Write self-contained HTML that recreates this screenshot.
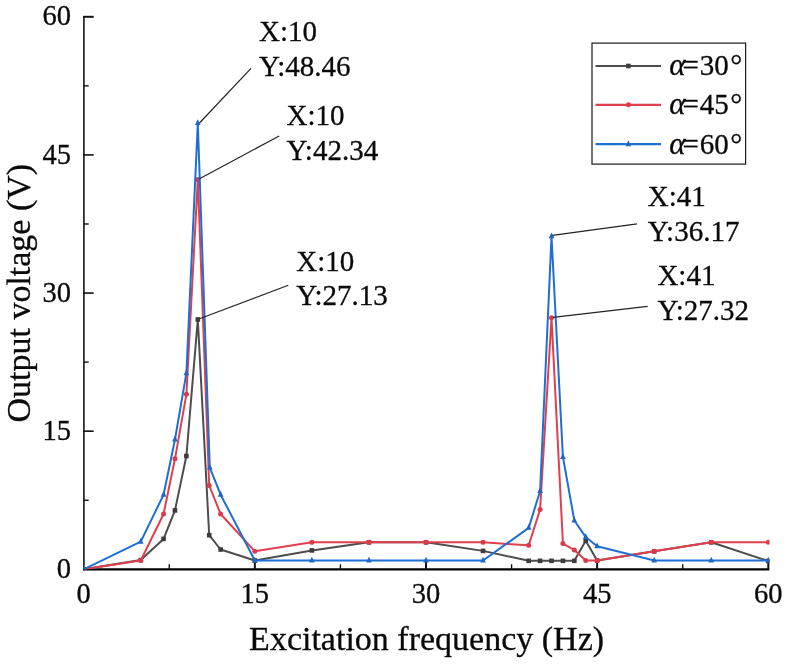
<!DOCTYPE html>
<html><head><meta charset="utf-8"><title>chart</title>
<style>
html,body{margin:0;padding:0;background:#fff;}
body{width:788px;height:664px;overflow:hidden;font-family:"Liberation Serif",serif;}
svg{display:block;filter:blur(0.3px)}
text{font-family:"Liberation Serif",serif;fill:#0a0a0a;stroke:#0a0a0a;stroke-width:0.3px;}
</style></head><body>
<svg width="788" height="664" viewBox="0 0 788 664">
<rect width="788" height="664" fill="#ffffff"/>
<line x1="83.9" x2="83.9" y1="16.0" y2="570.3" stroke="#222" stroke-width="1.7"/>
<line x1="83.0" x2="769.3" y1="569.4" y2="569.4" stroke="#000" stroke-width="2.3"/>
<line x1="83.10000000000001" x2="93.7" y1="431.17" y2="431.17" stroke="#111" stroke-width="1.6"/>
<line x1="83.10000000000001" x2="93.7" y1="293.05" y2="293.05" stroke="#111" stroke-width="1.6"/>
<line x1="83.10000000000001" x2="93.7" y1="154.92" y2="154.92" stroke="#111" stroke-width="1.6"/>
<line x1="83.10000000000001" x2="93.7" y1="16.80" y2="16.80" stroke="#111" stroke-width="2.0"/>
<line x1="83.7" x2="88.7" y1="500.24" y2="500.24" stroke="#111" stroke-width="1.4"/>
<line y1="569.3" y2="564.3" x1="169.27" x2="169.27" stroke="#111" stroke-width="1.4"/>
<line x1="83.7" x2="88.7" y1="362.11" y2="362.11" stroke="#111" stroke-width="1.4"/>
<line y1="569.3" y2="564.3" x1="340.42" x2="340.42" stroke="#111" stroke-width="1.4"/>
<line x1="83.7" x2="88.7" y1="223.99" y2="223.99" stroke="#111" stroke-width="1.4"/>
<line y1="569.3" y2="564.3" x1="511.57" x2="511.57" stroke="#111" stroke-width="1.4"/>
<line x1="83.7" x2="88.7" y1="85.86" y2="85.86" stroke="#111" stroke-width="1.4"/>
<line y1="569.3" y2="564.3" x1="682.72" x2="682.72" stroke="#111" stroke-width="1.4"/>
<line y1="569.3" y2="560.3" x1="254.85" x2="254.85" stroke="#111" stroke-width="2"/>
<line y1="569.3" y2="560.3" x1="426.00" x2="426.00" stroke="#111" stroke-width="2"/>
<line y1="569.3" y2="560.3" x1="597.15" x2="597.15" stroke="#111" stroke-width="2"/>
<line y1="569.3" y2="560.3" x1="768.30" x2="768.30" stroke="#111" stroke-width="2"/>
<defs><clipPath id="cp"><rect x="83.7" y="10.8" width="685.8" height="558.5"/></clipPath></defs><g clip-path="url(#cp)">
<polyline points="83.70,569.30 140.75,560.09 163.57,538.91 174.98,510.37 186.39,456.04 197.80,319.48 209.21,535.23 220.62,549.50 254.85,560.55 311.90,550.42 368.95,542.32 426.00,542.32 483.05,550.88 528.69,560.83 540.10,560.83 551.51,560.83 562.92,560.83 574.33,560.83 585.74,540.75 597.15,560.55 654.20,551.34 711.25,542.32 768.30,561.01" fill="none" stroke="#4d4d4d" stroke-width="2.0" stroke-linejoin="round"/>
<rect x="81.40" y="567.00" width="4.6" height="4.6" fill="#3c3c3c"/>
<rect x="138.45" y="557.79" width="4.6" height="4.6" fill="#3c3c3c"/>
<rect x="161.27" y="536.61" width="4.6" height="4.6" fill="#3c3c3c"/>
<rect x="172.68" y="508.07" width="4.6" height="4.6" fill="#3c3c3c"/>
<rect x="184.09" y="453.74" width="4.6" height="4.6" fill="#3c3c3c"/>
<rect x="195.50" y="317.18" width="4.6" height="4.6" fill="#3c3c3c"/>
<rect x="206.91" y="532.93" width="4.6" height="4.6" fill="#3c3c3c"/>
<rect x="218.32" y="547.20" width="4.6" height="4.6" fill="#3c3c3c"/>
<rect x="252.55" y="558.25" width="4.6" height="4.6" fill="#3c3c3c"/>
<rect x="309.60" y="548.12" width="4.6" height="4.6" fill="#3c3c3c"/>
<rect x="366.65" y="540.02" width="4.6" height="4.6" fill="#3c3c3c"/>
<rect x="423.70" y="540.02" width="4.6" height="4.6" fill="#3c3c3c"/>
<rect x="480.75" y="548.58" width="4.6" height="4.6" fill="#3c3c3c"/>
<rect x="526.39" y="558.53" width="4.6" height="4.6" fill="#3c3c3c"/>
<rect x="537.80" y="558.53" width="4.6" height="4.6" fill="#3c3c3c"/>
<rect x="549.21" y="558.53" width="4.6" height="4.6" fill="#3c3c3c"/>
<rect x="560.62" y="558.53" width="4.6" height="4.6" fill="#3c3c3c"/>
<rect x="572.03" y="558.53" width="4.6" height="4.6" fill="#3c3c3c"/>
<rect x="583.44" y="538.45" width="4.6" height="4.6" fill="#3c3c3c"/>
<rect x="594.85" y="558.25" width="4.6" height="4.6" fill="#3c3c3c"/>
<rect x="651.90" y="549.04" width="4.6" height="4.6" fill="#3c3c3c"/>
<rect x="708.95" y="540.02" width="4.6" height="4.6" fill="#3c3c3c"/>
<rect x="766.00" y="558.71" width="4.6" height="4.6" fill="#3c3c3c"/>
<polyline points="83.70,569.30 140.75,560.55 163.57,514.05 174.98,458.80 186.39,394.34 197.80,179.42 209.21,485.50 220.62,514.05 254.85,551.34 311.90,542.32 368.95,542.32 426.00,542.32 483.05,542.32 528.69,545.36 540.10,509.45 551.51,317.73 562.92,543.52 574.33,549.96 585.74,560.55 597.15,560.55 654.20,551.34 711.25,542.32 768.30,542.32" fill="none" stroke="#e0404e" stroke-width="2.0" stroke-linejoin="round"/>
<circle cx="83.70" cy="569.30" r="2.5" fill="#dc3a48"/>
<circle cx="140.75" cy="560.55" r="2.5" fill="#dc3a48"/>
<circle cx="163.57" cy="514.05" r="2.5" fill="#dc3a48"/>
<circle cx="174.98" cy="458.80" r="2.5" fill="#dc3a48"/>
<circle cx="186.39" cy="394.34" r="2.5" fill="#dc3a48"/>
<circle cx="197.80" cy="179.42" r="2.5" fill="#dc3a48"/>
<circle cx="209.21" cy="485.50" r="2.5" fill="#dc3a48"/>
<circle cx="220.62" cy="514.05" r="2.5" fill="#dc3a48"/>
<circle cx="254.85" cy="551.34" r="2.5" fill="#dc3a48"/>
<circle cx="311.90" cy="542.32" r="2.5" fill="#dc3a48"/>
<circle cx="368.95" cy="542.32" r="2.5" fill="#dc3a48"/>
<circle cx="426.00" cy="542.32" r="2.5" fill="#dc3a48"/>
<circle cx="483.05" cy="542.32" r="2.5" fill="#dc3a48"/>
<circle cx="528.69" cy="545.36" r="2.5" fill="#dc3a48"/>
<circle cx="540.10" cy="509.45" r="2.5" fill="#dc3a48"/>
<circle cx="551.51" cy="317.73" r="2.5" fill="#dc3a48"/>
<circle cx="562.92" cy="543.52" r="2.5" fill="#dc3a48"/>
<circle cx="574.33" cy="549.96" r="2.5" fill="#dc3a48"/>
<circle cx="585.74" cy="560.55" r="2.5" fill="#dc3a48"/>
<circle cx="597.15" cy="560.55" r="2.5" fill="#dc3a48"/>
<circle cx="654.20" cy="551.34" r="2.5" fill="#dc3a48"/>
<circle cx="711.25" cy="542.32" r="2.5" fill="#dc3a48"/>
<circle cx="768.30" cy="542.32" r="2.5" fill="#dc3a48"/>
<polyline points="83.70,569.30 140.75,541.67 163.57,494.71 174.98,439.46 186.39,373.16 197.80,123.06 209.78,467.55 220.62,494.71 254.85,560.55 311.90,560.55 368.95,560.55 426.00,560.55 483.05,560.55 528.69,527.86 540.10,491.03 551.51,236.23 562.92,456.96 574.33,520.50 585.74,537.07 597.15,546.28 654.20,560.55 711.25,560.55 768.30,560.55" fill="none" stroke="#1f6fd2" stroke-width="2.0" stroke-linejoin="round"/>
<polygon points="83.70,565.45 80.85,571.29 86.55,571.29" fill="#2366c2"/>
<polygon points="140.75,537.83 137.90,543.67 143.60,543.67" fill="#2366c2"/>
<polygon points="163.57,490.86 160.72,496.71 166.42,496.71" fill="#2366c2"/>
<polygon points="174.98,435.61 172.13,441.46 177.83,441.46" fill="#2366c2"/>
<polygon points="186.39,369.31 183.54,375.16 189.24,375.16" fill="#2366c2"/>
<polygon points="197.80,119.22 194.95,125.06 200.65,125.06" fill="#2366c2"/>
<polygon points="209.78,463.70 206.93,469.54 212.63,469.54" fill="#2366c2"/>
<polygon points="220.62,490.86 217.77,496.71 223.47,496.71" fill="#2366c2"/>
<polygon points="254.85,556.70 252.00,562.55 257.70,562.55" fill="#2366c2"/>
<polygon points="311.90,556.70 309.05,562.55 314.75,562.55" fill="#2366c2"/>
<polygon points="368.95,556.70 366.10,562.55 371.80,562.55" fill="#2366c2"/>
<polygon points="426.00,556.70 423.15,562.55 428.85,562.55" fill="#2366c2"/>
<polygon points="483.05,556.70 480.20,562.55 485.90,562.55" fill="#2366c2"/>
<polygon points="528.69,524.01 525.84,529.86 531.54,529.86" fill="#2366c2"/>
<polygon points="540.10,487.18 537.25,493.02 542.95,493.02" fill="#2366c2"/>
<polygon points="551.51,232.39 548.66,238.23 554.36,238.23" fill="#2366c2"/>
<polygon points="562.92,453.11 560.07,458.95 565.77,458.95" fill="#2366c2"/>
<polygon points="574.33,516.65 571.48,522.49 577.18,522.49" fill="#2366c2"/>
<polygon points="585.74,533.22 582.89,539.07 588.59,539.07" fill="#2366c2"/>
<polygon points="597.15,542.43 594.30,548.27 600.00,548.27" fill="#2366c2"/>
<polygon points="654.20,556.70 651.35,562.55 657.05,562.55" fill="#2366c2"/>
<polygon points="711.25,556.70 708.40,562.55 714.10,562.55" fill="#2366c2"/>
<polygon points="768.30,556.70 765.45,562.55 771.15,562.55" fill="#2366c2"/>
</g>
<text x="83.70" y="602.9" font-size="28.5" text-anchor="middle">0</text>
<text x="71.0" y="577.90" font-size="28.5" text-anchor="end">0</text>
<text x="254.85" y="602.9" font-size="28.5" text-anchor="middle">15</text>
<text x="71.0" y="439.77" font-size="28.5" text-anchor="end">15</text>
<text x="426.00" y="602.9" font-size="28.5" text-anchor="middle">30</text>
<text x="71.0" y="301.65" font-size="28.5" text-anchor="end">30</text>
<text x="597.15" y="602.9" font-size="28.5" text-anchor="middle">45</text>
<text x="71.0" y="163.52" font-size="28.5" text-anchor="end">45</text>
<text x="768.30" y="602.9" font-size="28.5" text-anchor="middle">60</text>
<text x="71.0" y="25.40" font-size="28.5" text-anchor="end">60</text>
<text x="426.6" y="649.6" font-size="34" text-anchor="middle">Excitation frequency (Hz)</text>
<text transform="translate(30.1,293.2) rotate(-90)" font-size="34" text-anchor="middle">Output voltage (V)</text>
<line x1="199.5" y1="123" x2="251" y2="68.3" stroke="#222" stroke-width="1.2"/>
<text x="259.0" y="41.3" font-size="29">X:10</text>
<text x="259.0" y="76.2" font-size="29">Y:48.46</text>
<line x1="199.5" y1="178.7" x2="279.2" y2="136" stroke="#222" stroke-width="1.2"/>
<text x="286.6" y="124.9" font-size="29">X:10</text>
<text x="286.6" y="160.1" font-size="29">Y:42.34</text>
<line x1="199.5" y1="318.8" x2="288.3" y2="285.3" stroke="#222" stroke-width="1.2"/>
<text x="296.2" y="270.6" font-size="29">X:10</text>
<text x="296.2" y="305.1" font-size="29">Y:27.13</text>
<line x1="552.5" y1="235.4" x2="637" y2="223.9" stroke="#222" stroke-width="1.2"/>
<text x="647.8" y="205.6" font-size="29">X:41</text>
<text x="647.8" y="241.3" font-size="29">Y:36.17</text>
<line x1="553" y1="317.4" x2="647.6" y2="306.4" stroke="#222" stroke-width="1.2"/>
<text x="657.4" y="284.9" font-size="29">X:41</text>
<text x="657.4" y="320.1" font-size="29">Y:27.32</text>
<rect x="592" y="43.1" width="153.6" height="121" fill="#fff" stroke="#1a1a1a" stroke-width="1.2"/>
<line x1="595.5" x2="661" y1="66" y2="66" stroke="#4d4d4d" stroke-width="2.2"/>
<rect x="626.10" y="63.70" width="4.6" height="4.6" fill="#3c3c3c"/>
<text x="669.3" y="75.3" font-size="29"><tspan font-style="italic" font-size="31">α</tspan><tspan dx="-3">=</tspan><tspan dx="0.8">30</tspan><tspan dx="1.6" font-size="30">°</tspan></text>
<line x1="595.5" x2="661" y1="104.8" y2="104.8" stroke="#e0404e" stroke-width="2.2"/>
<circle cx="628.40" cy="104.80" r="2.5" fill="#dc3a48"/>
<text x="669.3" y="114.1" font-size="29"><tspan font-style="italic" font-size="31">α</tspan><tspan dx="-3">=</tspan><tspan dx="0.8">45</tspan><tspan dx="1.6" font-size="30">°</tspan></text>
<line x1="595.5" x2="661" y1="144.2" y2="144.2" stroke="#1f6fd2" stroke-width="2.2"/>
<polygon points="628.40,140.35 625.55,146.19 631.25,146.19" fill="#2366c2"/>
<text x="669.3" y="153.5" font-size="29"><tspan font-style="italic" font-size="31">α</tspan><tspan dx="-3">=</tspan><tspan dx="0.8">60</tspan><tspan dx="1.6" font-size="30">°</tspan></text>
</svg></body></html>
